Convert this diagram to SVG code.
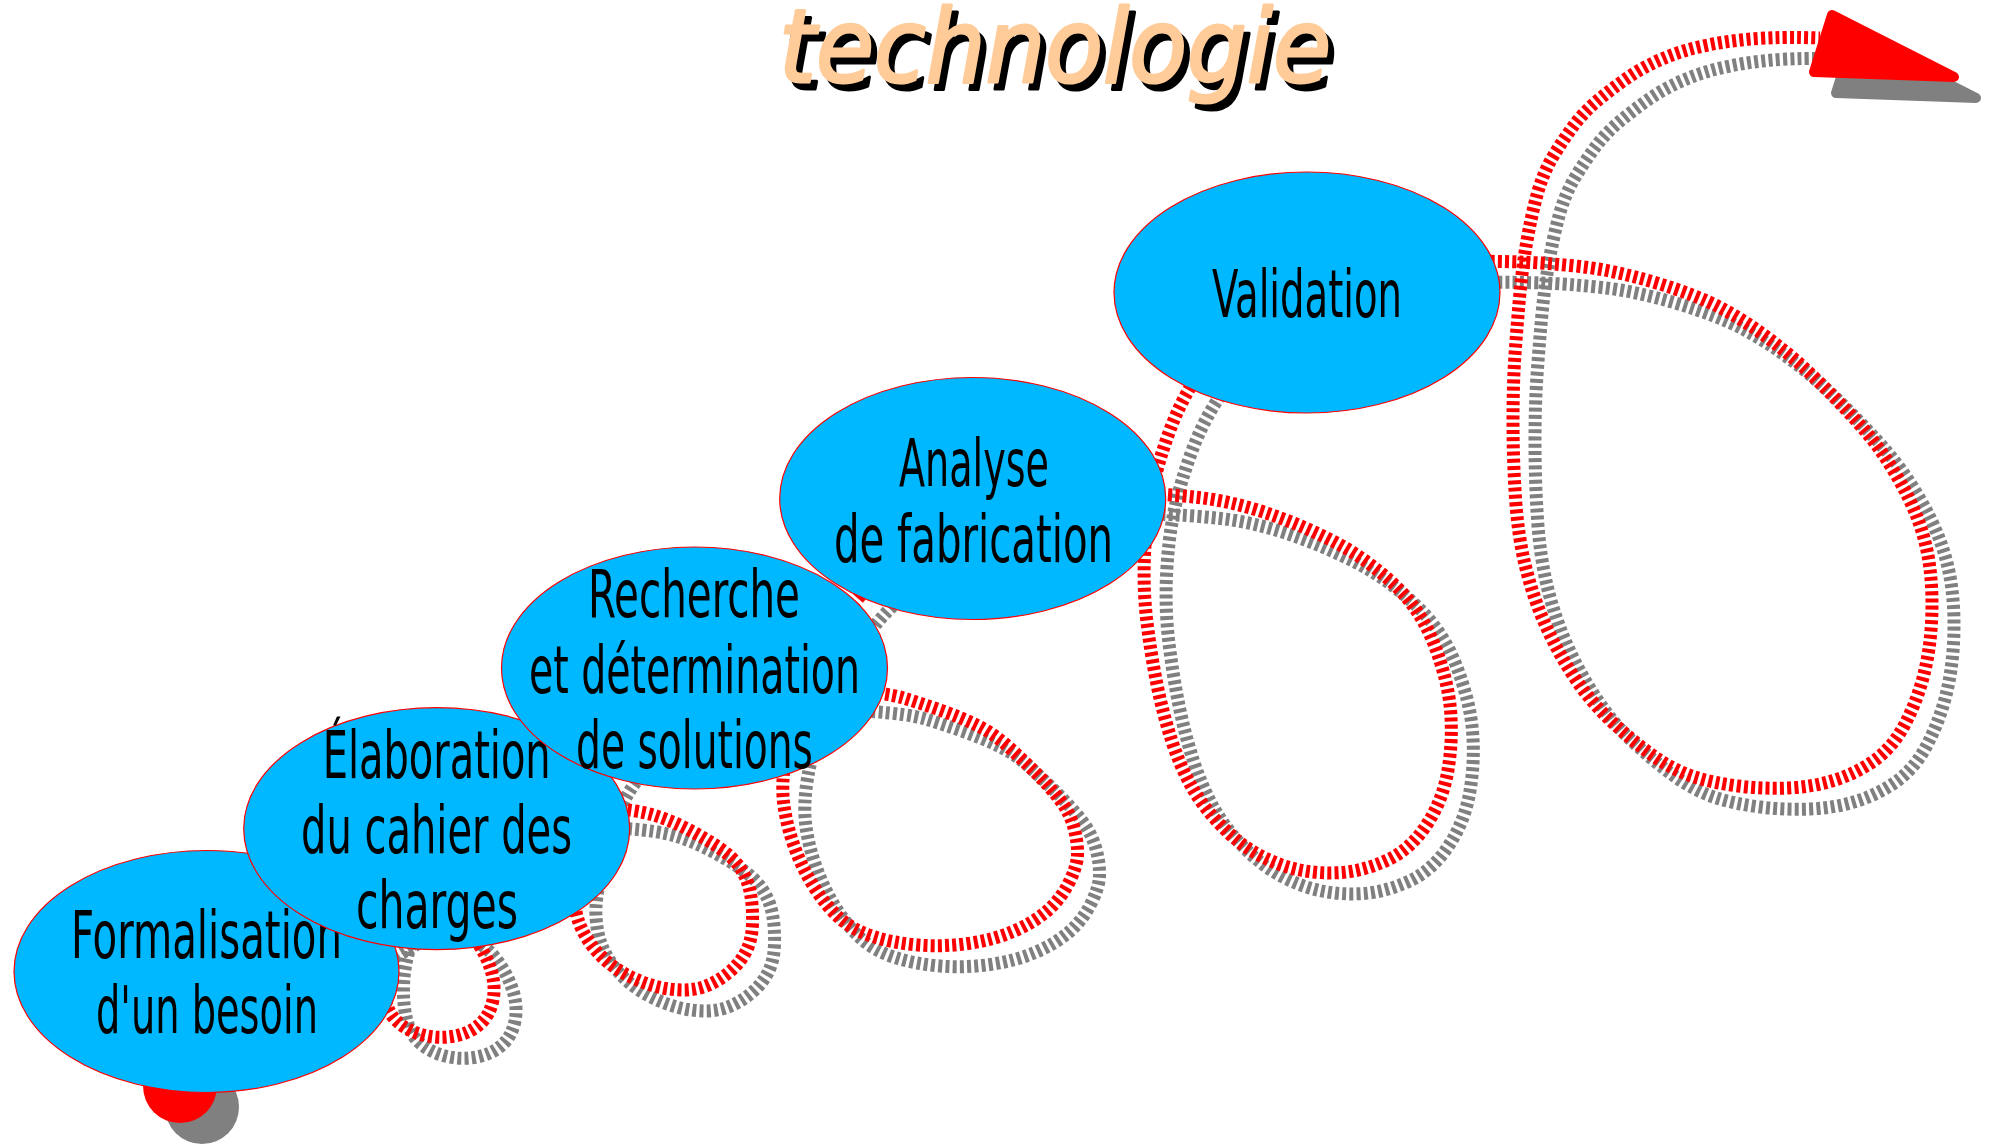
<svg xmlns="http://www.w3.org/2000/svg" xmlns:xlink="http://www.w3.org/1999/xlink" width="1999" height="1146" viewBox="0 0 1999 1146">
<style>
.flow{fill:none;stroke-width:13;stroke-dasharray:4 3.2}
.red{stroke:#FF0000}
.grey{stroke:#808080}
.head{stroke-width:10;stroke-linejoin:round}
.node{fill:#00B8FF;stroke:#FF0000;stroke-width:1.2}
.lbl{font-family:"Liberation Sans Narrow","DejaVu Sans Condensed","Liberation Sans",sans-serif;font-size:66px;fill:#000;text-anchor:middle}
.title{font-family:"Comic Sans MS","DejaVu Sans",sans-serif;font-size:102px;font-weight:normal;font-style:italic;stroke-width:3;stroke-linejoin:round;stroke-linecap:round}
</style>
<defs>
<path id="track" d="M 180 1086 L 220 1053 Q 260 1020 305 985 Q 350 950 385 929 Q 420 908 441 915 Q 462 922 473.5 937 Q 485 952 490.5 968.5 Q 496 985 493 1000 Q 490 1015 480 1024 Q 470 1033 455 1036 Q 440 1039 425 1035.5 Q 410 1032 399.5 1023.5 Q 389 1015 385 1000 Q 381 985 381.5 965 Q 382 945 388.5 925 Q 395 905 412.5 881.5 Q 430 858 465 840 Q 500 822 535 813.5 Q 570 805 603.5 807.5 Q 637 810 653.5 815 Q 670 820 686.5 828.5 Q 703 837 718 847 Q 733 857 740.5 868.5 Q 748 880 750.5 893.5 Q 753 907 752.5 923.5 Q 752 940 746 951.5 Q 740 963 730 971.5 Q 720 980 708.5 985 Q 697 990 683.5 990 Q 670 990 656.5 986.5 Q 643 983 630 976.5 Q 617 970 607 961.5 Q 597 953 590 943 Q 583 933 579 922.5 Q 575 912 574 896 Q 573 880 579 852.5 Q 585 825 595 796.5 Q 605 768 627.5 745 Q 650 722 690 708.5 Q 730 695 770 691.5 Q 810 688 848.5 690.5 Q 887 693 903.5 698 Q 920 703 940 710 Q 960 717 976.5 725 Q 993 733 1008 746.5 Q 1023 760 1036.5 773.5 Q 1050 787 1060 800 Q 1070 813 1074 828 Q 1078 843 1077.5 855 Q 1077 867 1068.5 883.5 Q 1060 900 1046.5 911.5 Q 1033 923 1013 931.5 Q 993 940 968 943.5 Q 943 947 918 945 Q 893 943 873 936.5 Q 853 930 840 918.5 Q 827 907 815 888.5 Q 803 870 795 848.5 Q 787 827 784 806 Q 781 785 785.5 757.5 Q 790 730 802.5 695 Q 815 660 835 629 Q 855 598 882.5 574 Q 910 550 955 529 Q 1000 508 1045 500 Q 1090 492 1128.5 493 Q 1167 494 1198.5 497.5 Q 1230 501 1263.5 512 Q 1297 523 1330 539.5 Q 1363 556 1391.5 582 Q 1420 608 1434 644 Q 1448 680 1450.5 710 Q 1453 740 1448 770 Q 1443 800 1426.5 825 Q 1410 850 1386.5 860.5 Q 1363 871 1341.5 872.5 Q 1320 874 1300 870 Q 1280 866 1260 855.5 Q 1240 845 1221.5 826 Q 1203 807 1191.5 786.5 Q 1180 766 1171.5 740 Q 1163 714 1157 684.5 Q 1151 655 1147 622.5 Q 1143 590 1144.5 555 Q 1146 520 1152 491 Q 1158 462 1170.5 428.5 Q 1183 395 1206.5 362.5 Q 1230 330 1275 305 Q 1320 280 1370 271 Q 1420 262 1456.5 261.5 Q 1493 261 1520 262 Q 1547 263 1580 266.5 Q 1613 270 1655 282.5 Q 1697 295 1722 308.5 Q 1747 322 1772 341 Q 1797 360 1822 385 Q 1847 410 1863.5 429 Q 1880 448 1895 473 Q 1910 498 1918.5 521 Q 1927 544 1930 569 Q 1933 594 1931.5 622.5 Q 1930 651 1923.5 676 Q 1917 701 1905 724 Q 1893 747 1875 760 Q 1857 773 1835 780 Q 1813 787 1788 788 Q 1763 789 1738 786 Q 1713 783 1693 776.5 Q 1673 770 1651.5 754.5 Q 1630 739 1610 720 Q 1590 701 1573.5 676 Q 1557 651 1545 624 Q 1533 597 1525.5 566.5 Q 1518 536 1515.5 498 Q 1513 460 1513 421.5 Q 1513 383 1515 354.5 Q 1517 326 1519.5 298 Q 1522 270 1526.5 243.5 Q 1531 217 1537 195 Q 1543 173 1553 156.5 Q 1563 140 1573 126.5 Q 1583 113 1596.5 101.5 Q 1610 90 1626.5 78.5 Q 1643 67 1663 58.5 Q 1683 50 1708 45 Q 1733 40 1758 38.5 Q 1783 37 1801.5 37.5 L 1820 38"/>
<polygon id="head" points="1832,15 1954,77 1814,72"/>
</defs>
<g id="title">
<text class="title" x="785" y="89" textLength="552" lengthAdjust="spacingAndGlyphs" fill="#000000" stroke="#000000">technologie</text>
<text class="title" x="779" y="82" textLength="552" lengthAdjust="spacingAndGlyphs" fill="#FFCC99" stroke="#FFCC99">technologie</text>
</g>
<g id="connectors">
<g id="connector-shadow" transform="translate(22,21)">
<use xlink:href="#track" class="flow grey"/>
<circle cx="180" cy="1086" r="37" fill="#808080"/>
<use xlink:href="#head" class="head grey" fill="#808080"/>
</g>
<g id="connector-main">
<use xlink:href="#track" class="flow red"/>
<circle cx="180" cy="1086" r="37" fill="#FF0000"/>
<use xlink:href="#head" class="head red" fill="#FF0000"/>
</g>
</g>
<g id="node-formalisation">
<ellipse class="node" cx="206.5" cy="971.5" rx="192.5" ry="121"/>
<text class="lbl" x="206.5" y="958" textLength="271" lengthAdjust="spacingAndGlyphs">Formalisation</text>
<text class="lbl" x="207" y="1033" textLength="222" lengthAdjust="spacingAndGlyphs">d'un besoin</text>
</g>
<g id="node-elaboration">
<ellipse class="node" cx="436.7" cy="828.7" rx="193" ry="121"/>
<text class="lbl" x="436.7" y="777.5" textLength="228" lengthAdjust="spacingAndGlyphs">Élaboration</text>
<text class="lbl" x="436.5" y="853" textLength="271" lengthAdjust="spacingAndGlyphs">du cahier des</text>
<text class="lbl" x="437" y="928" textLength="162" lengthAdjust="spacingAndGlyphs">charges</text>
</g>
<g id="node-recherche">
<ellipse class="node" cx="694.5" cy="668" rx="193" ry="121"/>
<text class="lbl" x="694" y="617" textLength="212" lengthAdjust="spacingAndGlyphs">Recherche</text>
<text class="lbl" x="694.5" y="693" textLength="331" lengthAdjust="spacingAndGlyphs">et détermination</text>
<text class="lbl" x="694.5" y="768" textLength="237" lengthAdjust="spacingAndGlyphs">de solutions</text>
</g>
<g id="node-analyse">
<ellipse class="node" cx="972.7" cy="498.5" rx="193" ry="121"/>
<text class="lbl" x="974" y="486" textLength="150" lengthAdjust="spacingAndGlyphs">Analyse</text>
<text class="lbl" x="973.5" y="561.5" textLength="279" lengthAdjust="spacingAndGlyphs">de fabrication</text>
</g>
<g id="node-validation">
<ellipse class="node" cx="1307" cy="292.5" rx="193" ry="120.5"/>
<text class="lbl" x="1307" y="317" textLength="190" lengthAdjust="spacingAndGlyphs">Validation</text>
</g>
</svg>
